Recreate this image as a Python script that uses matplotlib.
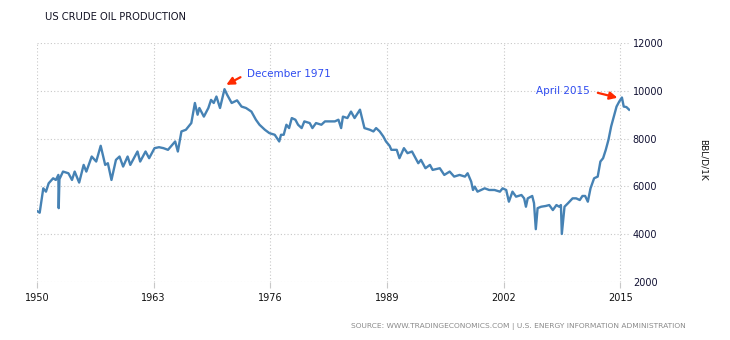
import matplotlib.pyplot as plt
import numpy as np

# Monthly-ish readings of US crude oil production (BBL/D/1K)
years = [
    1950.0, 1950.3, 1950.7, 1951.0, 1951.3, 1951.8, 1952.1, 1952.38, 1952.42, 1952.5,
    1952.9, 1953.5, 1953.9, 1954.2, 1954.7, 1955.2, 1955.5, 1956.1, 1956.6, 1957.1,
    1957.6, 1957.9, 1958.3, 1958.8, 1959.2, 1959.6, 1960.1, 1960.4, 1961.2, 1961.5,
    1962.1, 1962.5, 1963.1, 1963.6, 1964.1, 1964.6, 1965.4, 1965.7, 1966.1, 1966.6,
    1967.2, 1967.6, 1967.9, 1968.1, 1968.6, 1969.1, 1969.4, 1969.7, 1970.0, 1970.4,
    1970.9, 1971.2, 1971.7, 1972.3, 1972.8, 1973.3, 1973.9, 1974.4, 1974.8, 1975.4,
    1975.9, 1976.5, 1977.0, 1977.2, 1977.5, 1977.8, 1978.1, 1978.4, 1978.8, 1979.1,
    1979.5, 1979.8, 1980.4, 1980.7, 1981.1, 1981.7, 1982.1, 1982.6, 1983.2, 1983.6,
    1983.9, 1984.1, 1984.6, 1985.0, 1985.4, 1986.0, 1986.5, 1987.1, 1987.5, 1987.8,
    1988.2, 1988.6, 1988.9, 1989.3, 1989.5, 1990.1, 1990.4, 1990.9, 1991.3, 1991.8,
    1992.5, 1992.8, 1993.3, 1993.8, 1994.1, 1994.9, 1995.4, 1996.0, 1996.5, 1997.1,
    1997.7, 1998.0, 1998.4, 1998.6, 1998.8, 1999.1, 1999.9, 2000.4, 2001.0, 2001.6,
    2001.9, 2002.3, 2002.6, 2003.0, 2003.4, 2004.0, 2004.3, 2004.5, 2004.7, 2005.2,
    2005.4, 2005.6, 2005.8, 2006.2, 2006.7, 2007.1, 2007.5, 2007.9, 2008.2, 2008.4,
    2008.5, 2008.8, 2009.2, 2009.7, 2010.1, 2010.5, 2010.8, 2011.1, 2011.4, 2011.7,
    2012.1, 2012.5, 2012.8, 2013.1, 2013.4, 2013.7, 2014.0, 2014.3, 2014.6, 2014.9,
    2015.2, 2015.4, 2015.7, 2016.0,
]
production = [
    4970, 4900, 5920, 5780, 6130, 6340, 6270, 6480, 5090, 6300,
    6620, 6550, 6270, 6620, 6160, 6900, 6620, 7250, 7040, 7700,
    6900, 6970, 6270, 7110, 7250, 6830, 7250, 6900, 7460, 7040,
    7460, 7180, 7600, 7640, 7600, 7530, 7880, 7460, 8300, 8370,
    8650, 9490, 9000, 9280, 8920, 9280, 9620, 9490, 9760, 9280,
    10070, 9830, 9490, 9600, 9340, 9280, 9130, 8790, 8580, 8370,
    8230, 8160, 7880, 8160, 8160, 8580, 8440, 8860, 8790, 8580,
    8440, 8720, 8650, 8440, 8650, 8580, 8720, 8720, 8720, 8790,
    8440, 8920, 8860, 9130, 8860, 9210, 8440, 8370, 8300, 8440,
    8300, 8090, 7880, 7700, 7530, 7530, 7180, 7600, 7390, 7460,
    6970, 7110, 6760, 6900, 6690, 6760, 6480, 6620, 6410, 6480,
    6410, 6550, 6200, 5850, 5990, 5780, 5920, 5850, 5850, 5780,
    5920, 5850, 5360, 5780, 5570, 5640, 5500, 5150, 5500, 5600,
    5300, 4210, 5090, 5150, 5180, 5220, 5010, 5220, 5150, 5220,
    4010, 5150, 5300, 5500, 5500, 5430, 5600, 5600, 5360, 5920,
    6340, 6410, 7040, 7180, 7530, 7950, 8510, 8920, 9340, 9550,
    9720, 9340, 9320, 9210,
]

x_ticks = [1950, 1963, 1976, 1989, 2002, 2015]
y_ticks = [2000, 4000, 6000, 8000, 10000, 12000]

plt.rcParams['font.family'] = ['DejaVu Sans']

fig = plt.figure(figsize=(7.3, 3.4), dpi=100)
ax = fig.add_axes([37 / 730, 1 - 282 / 340, 593 / 730, 239 / 340])

ax.plot(years, production, color='#4682b4', linewidth=1.7, solid_joinstyle='round')

ax.set_xlim(1950, 2016.1)
ax.set_ylim(2000, 12000)
ax.set_xticks(x_ticks)
ax.set_yticks(y_ticks)
ax.yaxis.tick_right()
ax.grid(True, color='#c8c8c8', linestyle=(0, (1, 2)), linewidth=0.8)
for s in ax.spines.values():
    s.set_visible(False)
ax.tick_params(axis='x', length=4, color='#c8c8c8', labelsize=7, labelcolor='#111111', pad=4)
ax.tick_params(axis='y', length=0, labelsize=7, labelcolor='#111133', pad=2)

# Annotations
ax.annotate('December 1971', xy=(1971.1, 10250), xytext=(1973.4, 10714),
            color='#2f4cf0', fontsize=7.5, va='center', ha='left',
            arrowprops=dict(arrowstyle='-|>,head_length=0.6,head_width=0.3',
                            color='#ff2a00', lw=1.6, shrinkA=3, shrinkB=0,
                            relpos=(0, 0.5)))
ax.annotate('April 2015', xy=(2014.7, 9710), xytext=(2011.6, 10000),
            color='#2f4cf0', fontsize=7.5, va='center', ha='right',
            arrowprops=dict(arrowstyle='-|>,head_length=0.6,head_width=0.3',
                            color='#ff2a00', lw=1.6, shrinkA=4, shrinkB=0,
                            relpos=(1, 0.5)))

fig.text(45 / 730, 1 - 17 / 340, 'US CRUDE OIL PRODUCTION', fontsize=7.2,
         color='#111122', ha='left', va='center')
fig.text(703 / 730, 1 - 160 / 340, 'BBL/D/1K', fontsize=6.5, color='#111111',
         rotation=-90, ha='center', va='center')
fig.text(686 / 730, 1 - 326 / 340,
         'SOURCE: WWW.TRADINGECONOMICS.COM | U.S. ENERGY INFORMATION ADMINISTRATION',
         fontsize=5.4, color='#8a8a8a', ha='right', va='center')

fig.savefig('out.png', dpi=100)
